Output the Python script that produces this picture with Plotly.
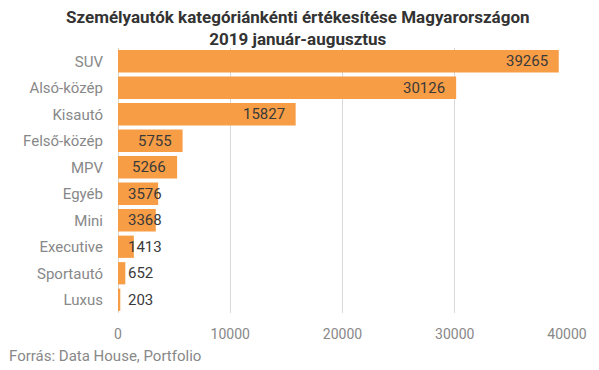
import plotly.graph_objects as go

categories = ["SUV", "Alsó-közép", "Kisautó", "Felső-közép", "MPV", "Egyéb",
              "Mini", "Executive", "Sportautó", "Luxus"]
values = [39265, 30126, 15827, 5755, 5266, 3576, 3368, 1413, 652, 203]
x_ticks = [0, 10000, 20000, 30000, 40000]

title = "Személyautók kategóriánkénti értékesítése Magyarországon<br>2019 január-augusztus"
source = "Forrás: Data House, Portfolio"

BAR = "#F79D45"
FONT = "Roboto, Arial, sans-serif"

L, R, T, B = 118, 29, 48, 57
W, H = 599, 370
xmax = 40000
px_per_unit = (W - L - R) / xmax

fig = go.Figure()
fig.add_trace(go.Bar(
    x=values, y=categories, orientation="h",
    marker=dict(color=BAR, line=dict(width=0)),
    width=0.84, hoverinfo="x+y",
))

annotations = []
for c, v in zip(categories, values):
    txt = str(v)
    tw = len(txt) * 8.3
    if v * px_per_unit - 18 >= tw:
        annotations.append(dict(x=v, y=c, text=txt, xanchor="right", xshift=-9,
                                showarrow=False, font=dict(family=FONT, size=15, color="#3a3a3a")))
    else:
        annotations.append(dict(x=0, y=c, text=txt, xanchor="left", xshift=8,
                                showarrow=False, font=dict(family=FONT, size=15, color="#3a3a3a")))

annotations.append(dict(x=0, y=0, xref="paper", yref="paper", xshift=-L + 7, yshift=-B + 3,
                        text=source, showarrow=False, xanchor="left", yanchor="bottom",
                        font=dict(family=FONT, size=15, color="#888888")))

# title as a paper-anchored annotation so both lines are placed predictably
annotations.append(dict(x=0.5, y=1, xref="paper", yref="paper", yshift=T - 5,
                        text=title, showarrow=False, xanchor="center", yanchor="top",
                        xshift=(L - R) / -2 + 0,
                        font=dict(family=FONT, size=17, color="#333333", weight="bold")))

fig.update_layout(
    width=W, height=H,
    margin=dict(l=L, r=R, t=T, b=B, pad=0),
    paper_bgcolor="white", plot_bgcolor="white",
    showlegend=False,
    annotations=annotations,
    xaxis=dict(range=[0, xmax], tickvals=x_ticks, ticktext=[str(t) for t in x_ticks],
               showgrid=True, gridcolor="#d9d9d9",
               gridwidth=1, zeroline=True, zerolinecolor="#d9d9d9", zerolinewidth=1,
               showline=False, ticks="", ticklabelstandoff=11,
               tickfont=dict(family=FONT, size=14, color="#888888"), fixedrange=True),
    yaxis=dict(categoryorder="array", categoryarray=categories[::-1], showgrid=False,
               ticks="", ticklabelstandoff=14, showline=False,
               tickfont=dict(family=FONT, size=15, color="#888888"), fixedrange=True),
)

fig.write_html("out.html", config={"displayModeBar": False},
               post_script="document.body.style.margin='0';document.body.style.overflow='hidden';")
